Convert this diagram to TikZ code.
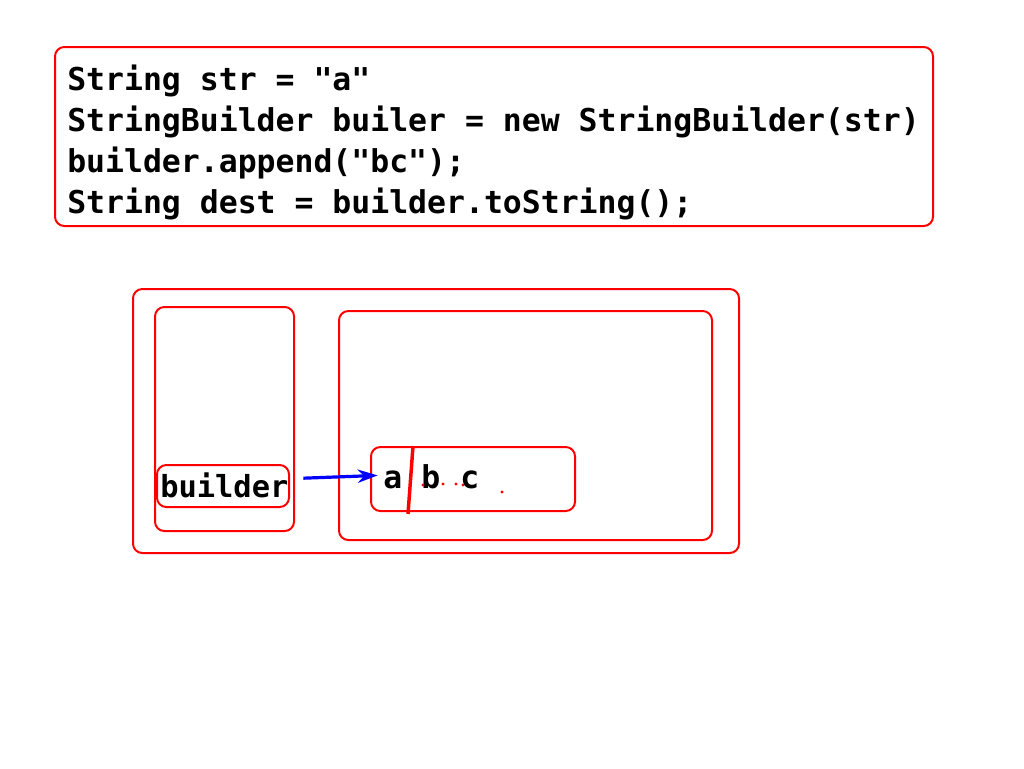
\documentclass[tikz,border=0pt]{standalone}
\usepackage{fontspec}
\setmonofont{DejaVu Sans Mono}
\usetikzlibrary{arrows.meta,positioning}
\definecolor{framered}{HTML}{FF0000}
\definecolor{pointerblue}{HTML}{0000FF}

\begin{document}
\begin{tikzpicture}[
    x=0.75pt, y=-0.75pt,
    >=Stealth,
    box/.style={draw=framered, line width=1.5pt, rounded corners=7pt},
    codeline/.style={font=\ttfamily\bfseries\fontsize{23.6}{28}\selectfont, anchor=base west, inner sep=0pt}
]
    \useasboundingbox (0,0) rectangle (1024,768);

    % === SOURCE CODE ===
    \draw[box] (55,47) rectangle (933,226);
    \foreach \y/\name/\txt in {90/strline/{String str = "a"},
                              131/newline/{StringBuilder builer = new StringBuilder(str)},
                              172/appline/{builder.append("bc");},
                              213/destline/{String dest = builder.toString();}} {
        \node[codeline] (\name) at (67,\y) {\txt};
    }

    % === MEMORY ===
    \draw[box] (133,289) rectangle (739,553);   % whole memory
    \draw[box] (155,307) rectangle (294,531);   % stack
    \draw[box] (339,311) rectangle (712,540);   % heap
    \draw[box] (157,465) rectangle (289,507);   % reference
    \draw[box] (371,447) rectangle (575,511);   % char buffer

    \node[codeline, font=\ttfamily\bfseries\fontsize{22.8}{28}\selectfont] (builder) at (160,497) {builder};
    \node[codeline] (chara) at (383,488) {a};
    \node[codeline] (charb) at (421,488) {b};
    \node[codeline] (charc) at (460,488) {c};

    % red cut between old and appended chars
    \draw[framered, line width=2.6pt] (413,446) -- (408,514);
    \foreach \x/\y in {423/485, 443/484, 456/484, 463/485, 502/492} {
        \fill[framered] (\x,\y) circle (1.6);
    }

    % === REFERENCE ===
    \draw[-{Stealth[length=15pt,width=10pt]}, pointerblue, line width=2.4pt] ([xshift=11pt,yshift=5pt]builder.east) -- ([xshift=-4pt,yshift=3pt]chara.west);
\end{tikzpicture}
\end{document}
